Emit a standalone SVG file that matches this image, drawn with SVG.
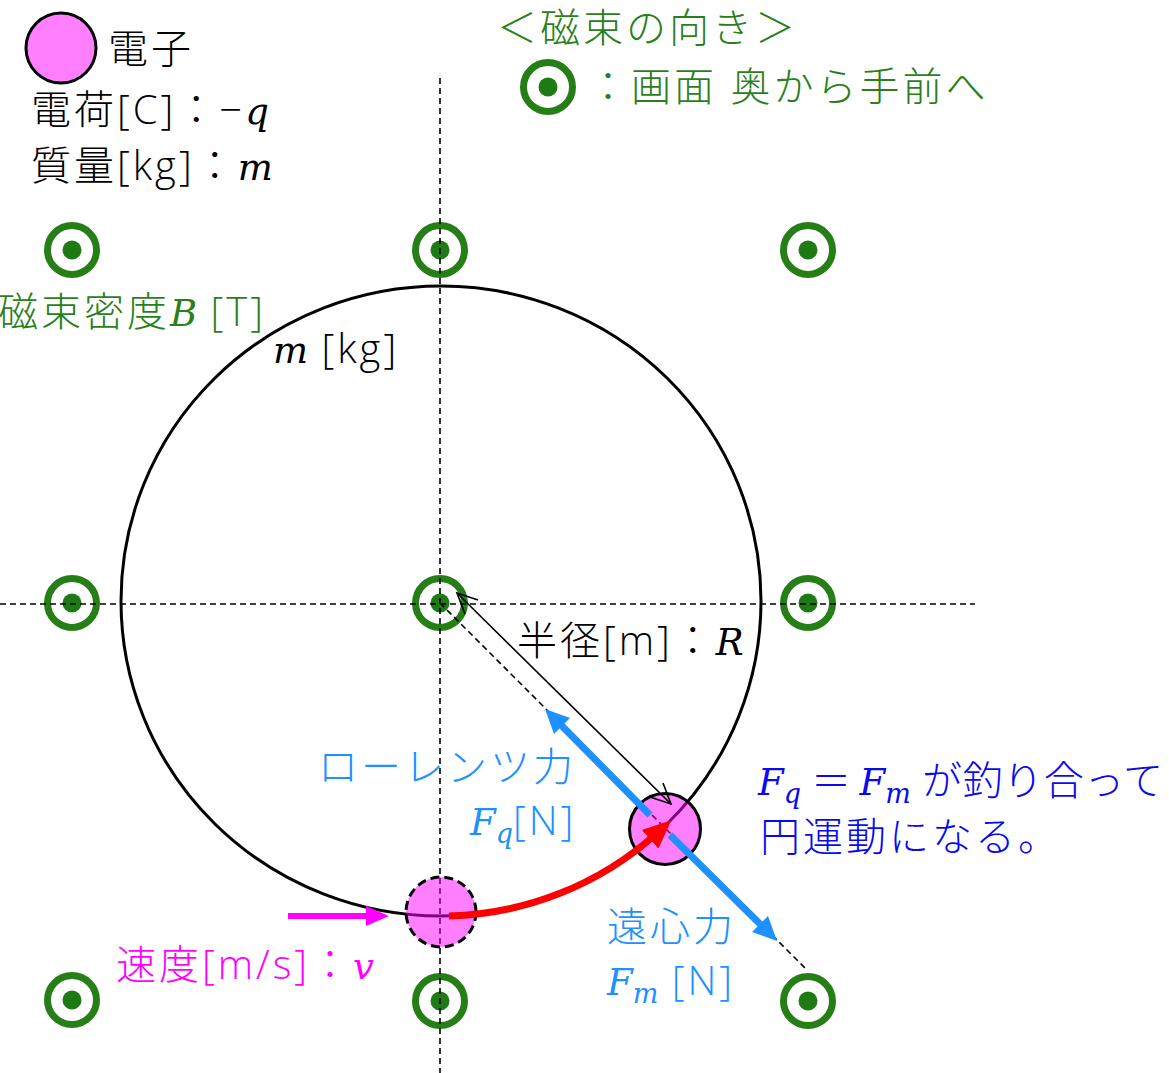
<svg xmlns="http://www.w3.org/2000/svg" xmlns:xlink="http://www.w3.org/1999/xlink" width="1169" height="1073" viewBox="0 0 1169 1073">
<style>
  .jp { font-family: "Open Sans", "Noto Sans CJK JP", "Noto Sans", sans-serif; font-weight: 300; font-size: 40px; letter-spacing: 3px; }
  .mi { font-family: "DejaVu Serif", "Liberation Serif", serif; font-style: italic; font-weight: normal; font-size: 37px; letter-spacing: 0; }
  .sub { font-size: 27px; }
  .tight { letter-spacing: 0.6px; }
  .blk { fill: #000000; }
  .grn { fill: #2A7F1A; }
  .lblue { fill: #1E90FF; }
  .dblue { fill: #0A0AF0; }
  .mag { fill: #FF00FF; }
  .axis { stroke: #000; stroke-width: 1.6; stroke-dasharray: 6 4; fill: none; }
  .ring { fill: none; stroke: #267F16; stroke-width: 7; }
  .dot { fill: #1E7A12; }
  .electron { fill: #FF00FF; fill-opacity: 0.5; stroke: #000; stroke-width: 3; }
</style>
<defs>
  <g id="bull">
    <circle class="ring" cx="0" cy="0" r="24.5"/>
    <circle class="dot" cx="0" cy="0" r="9.5"/>
  </g>
  <marker id="redhead" markerUnits="userSpaceOnUse" markerWidth="32" markerHeight="32" refX="8" refY="13" orient="auto">
    <path d="M1,2 L26,13 L1,24 Z" fill="#FF0000" stroke="#FF0000" stroke-width="2" stroke-linejoin="round"/>
  </marker>
</defs>

<!-- magnetic flux markers -->
<g id="flux-markers">
  <g id="b-tl"><use xlink:href="#bull" href="#bull" x="72" y="250"/></g>
  <g id="b-tm"><use xlink:href="#bull" href="#bull" x="440" y="250"/></g>
  <g id="b-tr"><use xlink:href="#bull" href="#bull" x="808" y="250"/></g>
  <g id="b-ml"><use xlink:href="#bull" href="#bull" x="72" y="603"/></g>
  <g id="b-mm"><use xlink:href="#bull" href="#bull" x="440" y="603"/></g>
  <g id="b-mr"><use xlink:href="#bull" href="#bull" x="808" y="603"/></g>
  <g id="b-bl"><use xlink:href="#bull" href="#bull" x="72" y="1000"/></g>
  <g id="b-bm"><use xlink:href="#bull" href="#bull" x="440" y="1001"/></g>
  <g id="b-br"><use xlink:href="#bull" href="#bull" x="808" y="1001"/></g>
  <g id="b-legend"><use xlink:href="#bull" href="#bull" x="548" y="87"/></g>
</g>

<!-- axes and orbit -->
<g id="axes">
  <line class="axis" x1="440" y1="78" x2="440" y2="1073"/>
  <line class="axis" x1="0" y1="604" x2="975" y2="604"/>
</g>
<g id="orbit">
  <ellipse cx="441" cy="601" rx="320" ry="315" fill="none" stroke="#000" stroke-width="3"/>
</g>
<g id="radial-dash">
  <line class="axis" x1="440" y1="603" x2="805" y2="968" stroke-dasharray="5 3"/>
</g>

<!-- electrons -->
<g id="electron-legend"><circle class="electron" cx="61" cy="48" r="35"/></g>
<g id="electron-start"><circle class="electron" cx="441" cy="912" r="35" stroke-dasharray="9 5"/></g>
<g id="electron-now"><circle class="electron" cx="665" cy="829" r="35.5"/></g>

<!-- connectors -->
<g id="connectors">
  <!-- motion arc -->
  <path d="M449,916 A320,315 0 0 0 656,834" fill="none" stroke="#FF0000" stroke-width="7" marker-end="url(#redhead)"/>
  <!-- velocity -->
  <line x1="288" y1="916" x2="370" y2="916" stroke="#FF00FF" stroke-width="6"/>
  <polygon points="389,916 366,906 366,926" fill="#FF00FF"/>
  <!-- Lorentz force -->
  <line x1="650" y1="815" x2="558" y2="722" stroke="#1E90FF" stroke-width="7"/>
  <polygon points="545,709 570,718 554,734" fill="#1E90FF"/>
  <!-- centrifugal force -->
  <line x1="670" y1="835" x2="764" y2="928" stroke="#1E90FF" stroke-width="7"/>
  <polygon points="777,941 768,916 752,932" fill="#1E90FF"/>
  <!-- radius -->
  <line x1="457" y1="593" x2="671" y2="804" stroke="#000" stroke-width="1.6"/>
  <polyline points="478,600 457,593 465,614" fill="none" stroke="#000" stroke-width="1.6"/>
  <polyline points="663,783 671,804 650,797" fill="none" stroke="#000" stroke-width="1.6"/>
</g>

<!-- labels -->
<g id="labels">
  <text class="jp blk" x="108" y="63">電子</text>
  <text class="jp blk" x="31" y="124">電荷[C]：−<tspan class="mi">q</tspan></text>
  <text class="jp blk" x="31" y="180">質量[kg]：<tspan class="mi">m</tspan></text>

  <text class="jp grn" x="497" y="42">＜磁束の向き＞</text>
  <text class="jp grn" x="588" y="101">：画面 奥から手前へ</text>
  <text class="jp grn" x="-2" y="326">磁束密度<tspan class="mi">B</tspan> [T]</text>

  <text class="jp blk" x="273" y="363"><tspan class="mi">m</tspan> [kg]</text>
  <text class="jp blk" x="517" y="655">半径[m]：<tspan class="mi">R</tspan></text>

  <text class="jp lblue" x="318" y="781">ローレンツ力</text>
  <text class="jp lblue" x="470" y="835"><tspan class="mi">F</tspan><tspan class="mi sub" dy="8">q</tspan><tspan dy="-8">[N]</tspan></text>

  <text class="jp tight dblue" x="758" y="795"><tspan class="mi">F</tspan><tspan class="mi sub" dy="8">q</tspan><tspan dy="-8" dx="10">＝</tspan><tspan class="mi" dx="8">F</tspan><tspan class="mi sub" dy="8">m</tspan><tspan dy="-8"> が釣り合って</tspan></text>
  <text class="jp dblue" x="760" y="851">円運動になる。</text>

  <text class="jp lblue" x="607" y="941">遠心力</text>
  <text class="jp lblue" x="607" y="995"><tspan class="mi">F</tspan><tspan class="mi sub" dy="8">m</tspan><tspan dy="-8"> [N]</tspan></text>

  <text class="jp mag" x="116" y="979">速度[m/s]：<tspan class="mi">v</tspan></text>
</g>
</svg>
